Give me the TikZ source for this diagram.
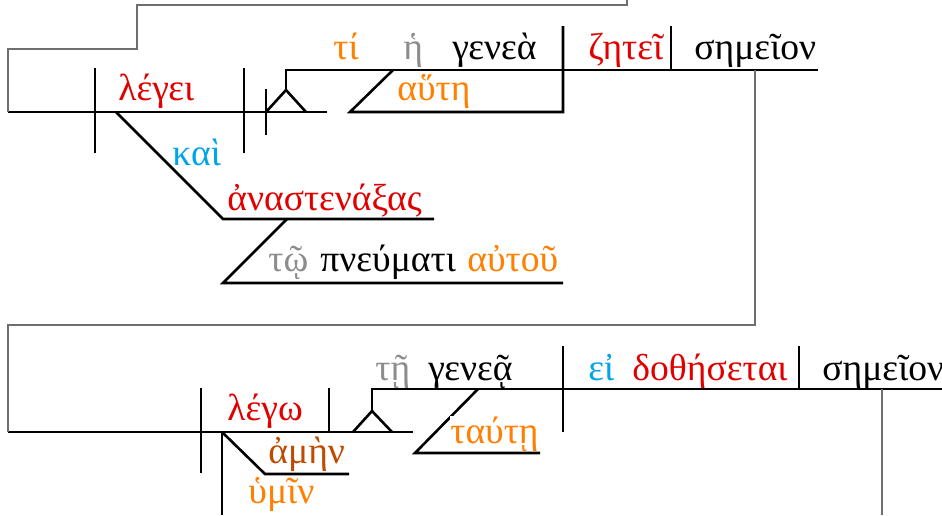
\documentclass[tikz,border=0pt]{standalone}
\usepackage{fontspec}
\setmainfont{Liberation Serif}
\definecolor{verbred}{RGB}{225,0,0}
\definecolor{modorange}{RGB}{255,128,0}
\definecolor{conjblue}{RGB}{0,165,230}
\definecolor{artgray}{RGB}{140,140,140}
\definecolor{advbrown}{RGB}{190,75,0}
\definecolor{linkgray}{RGB}{110,110,110}
\tikzset {
    main line/.style = {line width = 1.3pt},
    link line/.style = {line width = 1pt, draw = linkgray},
    word/.style = {anchor = base west, inner sep = 0pt, font = \fontsize{18.8}{22}\selectfont},
}

\begin{document}
\begin{tikzpicture}[x = 0.5pt, y = -0.5pt]
    \useasboundingbox (0, 0) rectangle (942, 515);
    % first sentence
    \coordinate (s1a) at (8, 112);
    \coordinate (s1b) at (327, 112);
    \coordinate (d1t) at (95, 68);
    \coordinate (d1b) at (95, 153);
    \coordinate (d2t) at (244, 68);
    \coordinate (d2b) at (244, 153);
    \coordinate (d3t) at (266, 89);
    \coordinate (d3b) at (266, 135);
    \coordinate (p1l) at (266, 112);
    \coordinate (p1t) at (286, 90);
    \coordinate (p1r) at (306, 112);
    \coordinate (c1a) at (286, 70);
    \coordinate (c1b) at (818, 70);
    \coordinate (m1a) at (393, 70);
    \coordinate (m1b) at (350, 112);
    \coordinate (m1c) at (563, 112);
    \coordinate (d4t) at (563, 26);
    \coordinate (d5t) at (671, 26);
    \coordinate (d5b) at (671, 70);
    \coordinate (k1a) at (116, 112);
    \coordinate (k1b) at (223, 219);
    \coordinate (k1c) at (434, 219);
    \coordinate (k2a) at (287, 219);
    \coordinate (k2b) at (223, 283);
    \coordinate (k2c) at (563, 283);
    \draw [main line] (s1a) -- (s1b);
    \draw [main line] (d1t) -- (d1b);
    \draw [main line] (d2t) -- (d2b);
    \draw [main line] (d3t) -- (d3b);
    \draw [main line] (p1l) -- (p1t) -- (p1r);
    \draw [main line] (p1t) -- (c1a) -- (c1b);
    \draw [main line] (m1a) -- (m1b) -- (m1c) -- (d4t);
    \draw [main line] (d5t) -- (d5b);
    \draw [main line] (k1a) -- (k1b) -- (k1c);
    \draw [main line] (k2a) -- (k2b) -- (k2c);
    \node (legei) [word, text = verbred] at (118, 100) {λέγει};
    \node (kai) [word, text = conjblue] at (172, 165) {καὶ};
    \node (ti) [word, text = modorange] at (333, 59) {τί};
    \node (he) [word, text = artgray] at (403, 59) {ἡ};
    \node (genea) [word] at (452, 59) {γενεὰ};
    \node (haute) [word, text = modorange] at (397, 100) {αὕτη};
    \node (zetei) [word, text = verbred] at (588, 59) {ζητεῖ};
    \node (semeion) [word] at (694, 59) {σημεῖον};
    \node (anast) [word, text = verbred] at (227, 210) {ἀναστενάξας};
    \node (to) [word, text = artgray] at (268, 271) {τῷ};
    \node (pneum) [word] at (320, 271) {πνεύματι};
    \node (autou) [word, text = modorange] at (467, 271) {αὐτοῦ};
    % second sentence
    \coordinate (s2a) at (8, 432);
    \coordinate (s2b) at (413, 432);
    \coordinate (e1t) at (201, 388);
    \coordinate (e1b) at (201, 473);
    \coordinate (e2t) at (329, 388);
    \coordinate (e2b) at (329, 432);
    \coordinate (u1a) at (222, 432);
    \coordinate (u1b) at (222, 515);
    \coordinate (u2b) at (265, 474);
    \coordinate (u2c) at (349, 474);
    \coordinate (p2l) at (353, 432);
    \coordinate (p2t) at (372, 411);
    \coordinate (p2r) at (392, 432);
    \coordinate (c2a) at (372, 389);
    \coordinate (c2b) at (942, 389);
    \coordinate (t1a) at (478, 389);
    \coordinate (t1b) at (415, 453);
    \coordinate (t1c) at (540, 453);
    \coordinate (e3t) at (563, 346);
    \coordinate (e3b) at (563, 432);
    \coordinate (e4t) at (799, 346);
    \coordinate (e4b) at (799, 389);
    \draw [main line] (s2a) -- (s2b);
    \draw [main line] (e1t) -- (e1b);
    \draw [main line] (e2t) -- (e2b);
    \draw [main line] (u1a) -- (u1b);
    \draw [main line] (u1a) -- (u2b) -- (u2c);
    \draw [main line] (p2l) -- (p2t) -- (p2r);
    \draw [main line] (p2t) -- (c2a) -- (c2b);
    \draw [main line] (t1a) -- (t1b) -- (t1c);
    \draw [main line] (e3t) -- (e3b);
    \draw [main line] (e4t) -- (e4b);
    \node (lego) [word, text = verbred] at (227, 420) {λέγω};
    \node (amen) [word, text = advbrown] at (268, 463) {ἀμὴν};
    \node (humin) [word, text = modorange] at (248, 503) {ὑμῖν};
    \node (te) [word, text = artgray] at (375, 380) {τῇ};
    \node (genea2) [word] at (428, 380) {γενεᾷ};
    \node (taute) [word, text = modorange, fill = white] at (450, 443) {ταύτῃ};
    \node (ei) [word, text = conjblue] at (588, 380) {εἰ};
    \node (doth) [word, text = verbred] at (632, 380) {δοθήσεται};
    \node (semeion2) [word] at (822, 380) {σημεῖον};
    % links
    \coordinate (g1a) at (627, 0);
    \coordinate (g1b) at (627, 5);
    \coordinate (g1c) at (137, 5);
    \coordinate (g1d) at (137, 49);
    \coordinate (g1e) at (8, 49);
    \coordinate (g2a) at (755, 70);
    \coordinate (g2b) at (755, 325);
    \coordinate (g2c) at (8, 325);
    \coordinate (g3a) at (882, 389);
    \coordinate (g3b) at (882, 515);
    \draw [link line] (g1a) -- (g1b) -- (g1c) -- (g1d) -- (g1e) -- (s1a);
    \draw [link line] (g2a) -- (g2b) -- (g2c) -- (s2a);
    \draw [link line] (g3a) -- (g3b);
\end{tikzpicture}
\end{document}
